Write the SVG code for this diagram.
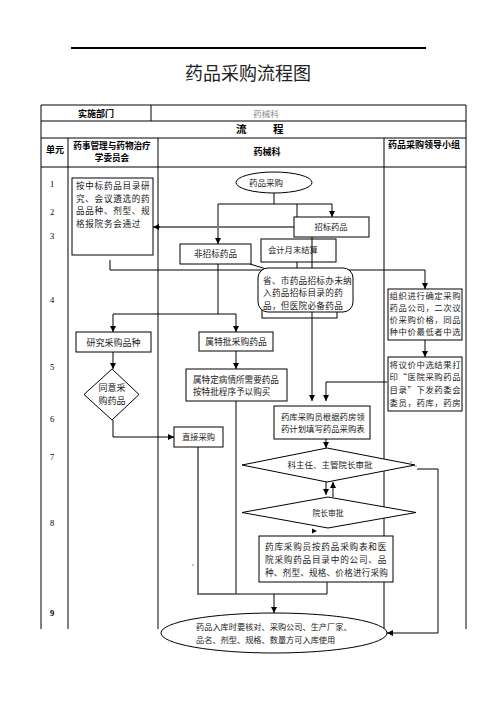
<svg xmlns="http://www.w3.org/2000/svg" width="496" height="702" viewBox="0 0 496 702">
<defs>
<marker id="ah" markerUnits="userSpaceOnUse" markerWidth="6" markerHeight="6" viewBox="0 0 6 6" refX="6" refY="3" orient="auto">
<path d="M0,0 L6,3 L0,6 z" fill="#000"/>
</marker>
</defs>
<style>
.t{font-family:"Noto Sans CJK SC","Noto Sans",sans-serif;fill:#222;}
.b{font-family:"Noto Sans CJK SC","Noto Sans",sans-serif;font-weight:bold;fill:#000;}
.n{font-family:"Liberation Serif","Noto Sans CJK SC",serif;font-size:8.5px;fill:#000;}
.box{fill:#fff;stroke:#000;stroke-width:1;}
.open{fill:none;stroke:#000;stroke-width:1;}
.tl{stroke:#000;stroke-width:1;fill:none;}
.c{stroke:#000;stroke-width:1;fill:none;}
.g{stroke:#777;stroke-width:2;fill:none;}
.a{marker-end:url(#ah);}
</style>
<rect width="496" height="702" fill="#fff"/>
<line x1="71" y1="48" x2="426" y2="48" stroke="#000" stroke-width="2"/>
<text class="t" x="248" y="80" font-size="18" text-anchor="middle">药品采购流程图</text>

<g id="table">
<path class="tl" d="M41,105 H466 M41,121 H466 M41,138 H466 M41,167 H466 M41,105 V629 M466,105 V629 M151,105 V121 M68,138 V629 M158,138 V629 M384,138 V629"/>
<text class="b" x="96" y="116.5" font-size="9" text-anchor="middle">实施部门</text>
<text class="t" x="266" y="116.5" font-size="8.5" style="fill:#888" text-anchor="middle">药械科</text>
<text class="b" font-size="10.5" y="133"><tspan x="236">流</tspan><tspan x="273">程</tspan></text>
<text class="b" x="55" y="153" font-size="9" text-anchor="middle">单元</text>
<text class="b" x="112" y="149" font-size="8.6" text-anchor="middle">药事管理与药物治疗</text>
<text class="b" x="112" y="161" font-size="8.6" text-anchor="middle">学委员会</text>
<text class="b" x="267" y="155" font-size="9" text-anchor="middle">药械科</text>
<text class="b" x="424" y="148" font-size="9" text-anchor="middle">药品采购领导小组</text>
<text class="n" x="52" y="187" text-anchor="middle">1</text>
<text class="n" x="52" y="215" text-anchor="middle">2</text>
<text class="n" x="52" y="239" text-anchor="middle">3</text>
<text class="n" x="52" y="303" text-anchor="middle">4</text>
<text class="n" x="52" y="370" text-anchor="middle">5</text>
<text class="n" x="52" y="422" text-anchor="middle">6</text>
<text class="n" x="52" y="460" text-anchor="middle">7</text>
<text class="n" x="52" y="526" text-anchor="middle">8</text>
<text class="n" x="52" y="616" text-anchor="middle" font-weight="bold">9</text>
</g>

<g id="connectors">
<path class="c" d="M274,193 V204 M218,204 H332"/>
<path class="c a" d="M218,204 V244"/>
<path class="c a" d="M332,204 V217"/>
<path class="c" d="M297,204 V217 M297,262 V270"/>
<path class="g" d="M294,227 H158"/>
<path class="c a" d="M160,227 H153"/>
<path class="c a" d="M312,237 V401"/>
<path class="c a" d="M110,260 V270 H425 V289"/>
<path class="c" d="M250,264 L276,272"/>
<path class="c" d="M218,264 V314 M113,314 H236"/>
<path class="c a" d="M113,314 V332"/>
<path class="c a" d="M236,314 V332"/>
<path class="c a" d="M113,352 V369"/>
<path class="c a" d="M113,420 V437 H174"/>
<path class="c a" d="M236,351 V369"/>
<path class="c" d="M236,401 V594"/>
<path class="g" d="M198,447 V594 H236"/>
<path class="c" d="M236,594 H327 V582"/>
<path class="c a" d="M274,594 V613"/>
<path class="c a" d="M425,340 V357"/>
<path class="c a" d="M387,382 H326 V401"/>
<path class="c a" d="M326,482 V495"/>
<path class="c a" d="M333,497 V482"/>
<path class="c a" d="M326,439 V448"/>
<path class="c a" d="M417,469 H438 V633 H387"/>
<path d="M322,476.5 L327,479 L322,481.5 z" fill="#000"/>
<path d="M312,528.5 L317,531 L312,533.5 z" fill="#000"/>
<circle cx="411" cy="462" r="0.6" fill="#000"/>
<circle cx="411" cy="466" r="0.6" fill="#000"/>
<circle cx="416" cy="466" r="0.6" fill="#000"/>
<circle cx="193" cy="565" r="0.6" fill="#000"/>
</g>

<g id="n-start">
<ellipse class="box" cx="274" cy="182.5" rx="38" ry="10.5"/>
<text class="t" x="266" y="185.5" font-size="8.5" text-anchor="middle">药品采购</text>
</g>

<g id="n-review">
<rect class="box" x="72" y="178" width="81" height="77"/>
<text class="t" x="76" y="189" font-size="8.6" letter-spacing="0.7">按中标药品目录研</text>
<text class="t" x="76" y="201.6" font-size="8.6" letter-spacing="0.7">究、会议遴选的药</text>
<text class="t" x="76" y="214.2" font-size="8.6" letter-spacing="0.7">品品种、剂型、规</text>
<text class="t" x="76" y="226.8" font-size="8.6" letter-spacing="0.7">格报院务会通过</text>
</g>

<g id="n-bid">
<rect class="box" x="294" y="217" width="75" height="20"/>
<text class="t" x="331" y="230" font-size="8.3" text-anchor="middle">招标药品</text>
</g>

<g id="n-settle">
<rect class="open" x="261" y="239" width="75" height="23"/>
<text class="t" x="268" y="252.5" font-size="8.3">会计月末结算</text>
</g>

<g id="n-nonbid">
<rect class="box" x="180" y="244" width="71" height="20"/>
<text class="t" x="215.5" y="257" font-size="8.6" text-anchor="middle">非招标药品</text>
</g>

<g id="n-hidden">
<rect class="open" x="262" y="276" width="75" height="42"/>
</g>

<g id="n-provincial">
<rect class="box" x="258" y="268" width="95" height="44" rx="10"/>
<text class="t" x="263" y="284" font-size="8.6" letter-spacing="0.3">省、市药品招标办未纳</text>
<text class="t" x="263" y="296.3" font-size="8.6" letter-spacing="0.3">入药品招标目录的药</text>
<text class="t" x="263" y="308.6" font-size="8.6" letter-spacing="0.3">品，但医院必备药品</text>
</g>

<g id="n-research">
<rect class="box" x="76" y="332" width="75" height="20"/>
<text class="t" x="113.5" y="345.5" font-size="9" text-anchor="middle">研究采购品种</text>
</g>

<g id="n-agree">
<polygon class="box" points="112,369 139,394.5 112,420 84,394.5"/>
<text class="t" x="112" y="391" font-size="9" text-anchor="middle">同意采</text>
<text class="t" x="112" y="404" font-size="9" text-anchor="middle">购药品</text>
</g>

<g id="n-direct">
<rect class="box" x="174" y="427" width="49" height="20"/>
<text class="t" x="198.5" y="440" font-size="8.3" text-anchor="middle">直接采购</text>
</g>

<g id="n-special">
<rect class="box" x="199" y="332" width="74" height="19"/>
<text class="t" x="236" y="345" font-size="8.8" text-anchor="middle">属特批采购药品</text>
</g>

<g id="n-special2">
<rect class="box" x="186" y="369" width="101" height="32"/>
<text class="t" x="193" y="382.5" font-size="8.6">属特定病情所需要药品</text>
<text class="t" x="193" y="395" font-size="8.6">按特批程序予以购买</text>
</g>

<g id="n-form">
<rect class="box" x="274" y="406" width="96" height="33"/>
<text class="t" x="281" y="419.5" font-size="8.4">药库采购员根据药房领</text>
<text class="t" x="281" y="432" font-size="8.4">药计划填写药品采购表</text>
</g>

<g id="n-approve1">
<polygon class="box" points="327,448 415,465 327,482 242,465"/>
<text class="t" x="330" y="468" font-size="8.5" text-anchor="middle">科主任、主管院长审批</text>
</g>

<g id="n-approve2">
<polygon class="box" points="328,497 416,512.5 328,528 242,512.5"/>
<text class="t" x="328" y="515.5" font-size="7.8" text-anchor="middle">院长审批</text>
</g>

<g id="n-purchase">
<rect class="box" x="259" y="536" width="134" height="46"/>
<text class="t" x="265" y="549.5" font-size="8.6" letter-spacing="0.8">药库采购员按药品采购表和医</text>
<text class="t" x="265" y="562.5" font-size="8.6" letter-spacing="0.8">院采购药品目录中的公司、品</text>
<text class="t" x="265" y="575.5" font-size="8.6" letter-spacing="0.2">种、剂型、规格、价格进行采购</text>
</g>

<g id="n-store">
<ellipse class="box" cx="274" cy="633" rx="113" ry="20"/>
<text class="t" x="196" y="630" font-size="8.2">药品入库时要核对、采购公司、生产厂家、</text>
<text class="t" x="196" y="643" font-size="8.2">品名、剂型、规格、数量方可入库使用</text>
</g>

<g id="n-group1">
<rect class="box" x="388" y="289" width="74" height="51"/>
<text class="t" x="389.5" y="299" font-size="8.4" letter-spacing="0.6">组织进行确定采购</text>
<text class="t" x="389.5" y="311" font-size="8.4" letter-spacing="0.6">药品公司，二次议</text>
<text class="t" x="389.5" y="323" font-size="8.4" letter-spacing="0.6">价采购价格，同品</text>
<text class="t" x="389.5" y="335" font-size="8.4" letter-spacing="0.6">种中价最低者中选</text>
</g>

<g id="n-group2">
<rect class="box" x="388" y="357" width="74" height="54"/>
<text class="t" x="389.5" y="367.5" font-size="8.4" letter-spacing="0.6">将议价中选结果打</text>
<text class="t" x="389.5" y="380.3" font-size="8.4" letter-spacing="0.6">印“医院采购药品</text>
<text class="t" x="389.5" y="393.1" font-size="8.4" letter-spacing="0.6">目录”下发药委会</text>
<text class="t" x="389.5" y="405.9" font-size="8.4" letter-spacing="0.6">委员，药库，药房</text>
</g>
</svg>
